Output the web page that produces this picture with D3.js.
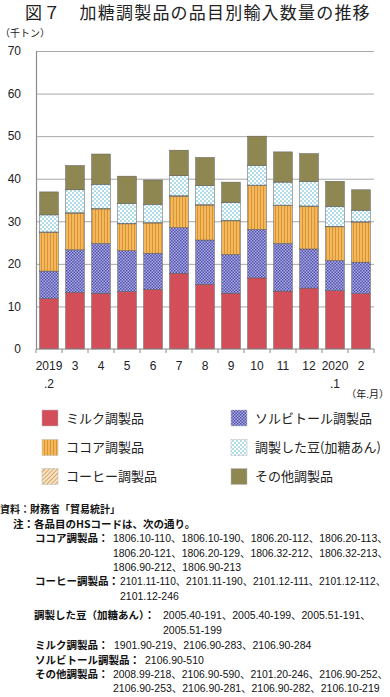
<!DOCTYPE html>
<html><head><meta charset="utf-8">
<script src="https://cdn.jsdelivr.net/npm/d3@7"></script>
<style>
body{margin:0;background:#fff;}
svg{display:block;}
.num{font-family:"Liberation Sans",Arial,sans-serif;}
.jp{font-family:"Noto Sans CJK JP","Noto Sans",sans-serif;}
</style></head>
<body>
<svg id="c" width="390" height="697"></svg>
<script>
const categories = ["2019.2","2019.3","2019.4","2019.5","2019.6","2019.7","2019.8","2019.9","2019.10","2019.11","2019.12","2020.1","2020.2"];
const tickLine1 = ["2019","3","4","5","6","7","8","9","10","11","12","2020","2"];
const tickLine2 = [".2","","","","","","","","","","",".1",""];
const milk     = [11.9,13.3,13.1,13.5,14.0,17.8,15.2,13.1,16.7,13.6,14.3,13.7,13.0];
const sorbitol = [6.4,10.0,11.7,9.6,8.5,10.7,10.4,9.1,11.4,11.2,9.2,7.1,7.4];
const cocoa    = [9.1,8.6,8.1,6.3,7.1,7.4,8.2,7.9,10.3,8.9,10.0,7.9,9.4];
const coffee   = [0.1,0.1,0.1,0.1,0.1,0.1,0.1,0.1,0.1,0.1,0.1,0.1,0.1];
const beans    = [4.0,5.4,5.7,4.7,4.3,4.7,4.5,4.2,4.6,5.4,5.7,4.7,2.7];
const other    = [5.4,5.7,7.1,6.4,5.7,6.0,6.6,4.8,6.9,7.1,6.6,5.9,4.8];
const yTicks = [0,10,20,30,40,50,60,70];
const seriesNames = ["ミルク調製品","ソルビトール調製品","ココア調製品","コーヒー調製品","調製した豆(加糖あん)","その他調製品"];
const seriesKeys = ["milk","sorbitol","cocoa","coffee","beans","other"];
const seriesData = {milk, sorbitol, cocoa, coffee, beans, other};
const legendOrder = ["milk","sorbitol","cocoa","beans","coffee","other"];

const svg = d3.select("#c");
const defs = svg.append("defs");
const pS = defs.append("pattern").attr("id","p-sorbitol").attr("patternUnits","userSpaceOnUse").attr("width",3).attr("height",3);
pS.append("rect").attr("width",3).attr("height",3).attr("fill","#ababe6");
pS.append("rect").attr("width",1.5).attr("height",1.5).attr("fill","#5252aa");
pS.append("rect").attr("x",1.5).attr("y",1.5).attr("width",1.5).attr("height",1.5).attr("fill","#5252aa");
const pC = defs.append("pattern").attr("id","p-cocoa").attr("patternUnits","userSpaceOnUse").attr("width",3).attr("height",3);
pC.append("rect").attr("width",3).attr("height",3).attr("fill","#f3b85e");
pC.append("rect").attr("x",2).attr("width",1).attr("height",3).attr("fill","#d99533");
const pB = defs.append("pattern").attr("id","p-beans").attr("patternUnits","userSpaceOnUse").attr("width",4).attr("height",4);
pB.append("rect").attr("width",4).attr("height",4).attr("fill","#ffffff");
pB.append("circle").attr("cx",1).attr("cy",1).attr("r",0.95).attr("fill","#8fcde2");
pB.append("circle").attr("cx",3).attr("cy",3).attr("r",0.95).attr("fill","#8fcde2");
const pK = defs.append("pattern").attr("id","p-coffee").attr("patternUnits","userSpaceOnUse").attr("width",3).attr("height",3).attr("patternTransform","rotate(45)");
pK.append("rect").attr("width",3).attr("height",3).attr("fill","#f7e4c6");
pK.append("rect").attr("width",1).attr("height",3).attr("fill","#d4a468");

const fills = {milk:"#d24e58", sorbitol:"url(#p-sorbitol)", cocoa:"url(#p-cocoa)", coffee:"url(#p-coffee)", beans:"url(#p-beans)", other:"#8f8752"};

svg.append("text").attr("class","jp").attr("x",25).attr("y",18.5).attr("font-size",17).attr("letter-spacing",1.2).attr("fill","#222").text("図７　加糖調製品の品目別輸入数量の推移");
svg.append("text").attr("class","jp").attr("x",0).attr("y",37).attr("font-size",10).attr("fill","#222").text("（千トン）");

const x = d3.scaleBand().domain(categories).range([36,374]).paddingInner(0.28).paddingOuter(0.14);
const y = d3.scaleLinear().domain([0,70]).range([349,51]);

svg.append("g").attr("transform","translate(36,0)")
  .call(d3.axisLeft(y).tickValues(yTicks.filter(v=>v>0)).tickSize(-338).tickFormat(""))
  .call(g=>g.select(".domain").remove())
  .call(g=>g.selectAll("line").attr("stroke","#a8a8a8").attr("stroke-width",1));

const rows = categories.map((c,i)=>{const o={cat:c}; seriesKeys.forEach(k=>o[k]=seriesData[k][i]); return o;});
const stack = d3.stack().keys(seriesKeys)(rows);
svg.append("g").selectAll("g").data(stack).join("g")
  .attr("fill",d=>fills[d.key])
  .selectAll("rect").data(d=>d).join("rect")
  .attr("x",d=>x(d.data.cat)).attr("width",x.bandwidth())
  .attr("y",d=>y(d[1])).attr("height",d=>y(d[0])-y(d[1]))
  .attr("stroke","#5a5a5a").attr("stroke-width",0.5);

svg.append("g").attr("transform","translate(36,0)")
  .call(d3.axisLeft(y).tickValues(yTicks).tickSize(0).tickPadding(15))
  .call(g=>g.select(".domain").attr("stroke","#8a8a8a").attr("stroke-width",1.2))
  .call(g=>g.selectAll("text").attr("class","num").attr("font-size",12).attr("fill","#222"));

svg.append("line").attr("x1",36).attr("x2",374).attr("y1",y(0)).attr("y2",y(0)).attr("stroke","#8a8a8a").attr("stroke-width",1.2);
const half = x.step()*x.paddingInner()/2;
const bounds = categories.map(c=>x(c)-half).concat([x(categories[categories.length-1])+x.bandwidth()+half]);
svg.append("g").selectAll("line").data(bounds).join("line")
  .attr("x1",d=>d).attr("x2",d=>d).attr("y1",y(0)).attr("y2",y(0)+4)
  .attr("stroke","#8a8a8a").attr("stroke-width",1);
const xl = svg.append("g").attr("class","num").attr("font-size",12).attr("fill","#222").attr("text-anchor","middle");
xl.selectAll("text.l1").data(categories).join("text").attr("class","l1")
  .attr("x",d=>x(d)+x.bandwidth()/2).attr("y",370).text((d,i)=>tickLine1[i]);
xl.selectAll("text.l2").data(categories).join("text").attr("class","l2")
  .attr("x",d=>x(d)+x.bandwidth()/2).attr("y",387.5).text((d,i)=>tickLine2[i]);
svg.append("text").attr("class","jp").attr("x",389).attr("y",398).attr("text-anchor","end").attr("font-size",10).attr("fill","#222").text("（年.月）");

const lg = svg.append("g");
legendOrder.forEach((k,i)=>{
  const col = i%2, row = Math.floor(i/2);
  const lx = col===0?42:231, ly = [410,439.5,468.5][row];
  lg.append("rect").attr("x",lx).attr("y",ly).attr("width",16).attr("height",16).attr("fill",fills[k]).attr("stroke","#bbb").attr("stroke-width",0.5);
  lg.append("text").attr("class","jp").attr("x",lx+24).attr("y",ly+8).attr("dy","0.36em").attr("font-size",13).attr("fill","#222").text(seriesNames[seriesKeys.indexOf(k)]);
});

const notes = [
  {y:509.5, parts:[{x:0,t:"資料：財務省「貿易統計」",b:1,fs:10}]},
  {y:524, parts:[{x:13,t:"注：各品目のHSコードは、次の通り。",b:1}]},
  {y:538.5, parts:[{x:35,t:"ココア調製品：",b:1},{x:113,t:"1806.10-110、1806.10-190、1806.20-112、1806.20-113、",ref:1,end:388}]},
  {y:553, parts:[{x:113,t:"1806.20-121、1806.20-129、1806.32-212、1806.32-213、",end:388}]},
  {y:567, parts:[{x:113,t:"1806.90-212、1806.90-213"}]},
  {y:581.5, parts:[{x:35,t:"コーヒー調製品：",b:1},{x:120,t:"2101.11-110、2101.11-190、2101.12-111、2101.12-112、",end:386}]},
  {y:596.5, parts:[{x:120,t:"2101.12-246"}]},
  {y:615.5, parts:[{x:34,t:"調製した豆（加糖あん）：",b:1},{x:163,t:"2005.40-191、2005.40-199、2005.51-191、"}]},
  {y:630.5, parts:[{x:163,t:"2005.51-199"}]},
  {y:645.5, parts:[{x:35,t:"ミルク調製品：",b:1},{x:114,t:"1901.90-219、2106.90-283、2106.90-284"}]},
  {y:660, parts:[{x:35,t:"ソルビトール調製品：",b:1},{x:145,t:"2106.90-510"}]},
  {y:674, parts:[{x:35,t:"その他調製品：",b:1},{x:113,t:"2008.99-218、2106.90-590、2101.20-246、2106.90-252、",end:388}]},
  {y:688, parts:[{x:113,t:"2106.90-253、2106.90-281、2106.90-282、2106.10-219",end:380}]}
];
const ng = svg.append("g").attr("fill","#111");
const numTexts = [];
let refText = null;
notes.forEach(n=>n.parts.forEach(p=>{
  const t = ng.append("text").attr("x",p.x).attr("y",n.y).attr("dy","0.36em")
    .attr("font-family", p.b? '"Noto Sans CJK JP",sans-serif' : '"Liberation Sans","Noto Sans CJK JP",sans-serif')
    .attr("font-weight", p.b?700:400)
    .attr("font-size", p.fs || (p.b?10.5:10))
    .text(p.t);
  if(!p.b){ numTexts.push({t,p}); if(p.ref) refText = t; }
}));
const w = refText.node().getComputedTextLength();
const fs = Math.min(12, 10 * (388-113) / w);
numTexts.forEach(({t,p})=>{
  t.attr("font-size", fs);
  if(p.end){
    const len = t.node().getComputedTextLength();
    if(p.x + len > p.end) t.attr("font-size", fs * (p.end - p.x) / len);
  }
});
</script>
</body></html>
